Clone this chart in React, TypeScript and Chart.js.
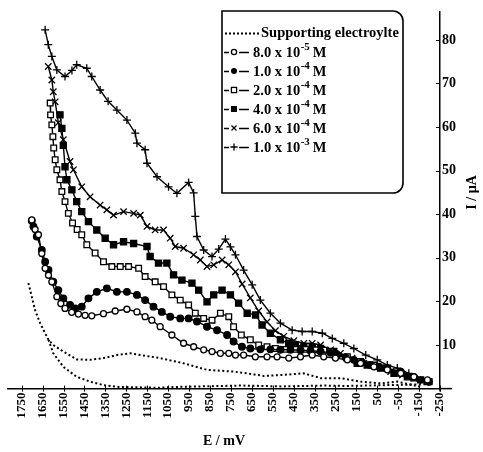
import React, { useEffect, useRef } from 'react';
import { Chart, registerables } from 'chart.js';

Chart.register(...registerables);

// ---------- tick labels ----------
const xTickValues = [1750, 1650, 1550, 1450, 1350, 1250, 1150, 1050, 950, 850, 750, 650, 550, 450, 350, 250, 150, 50, -50, -150, -250];
const yTickValues = [10, 20, 30, 40, 50, 60, 70, 80];

// ---------- series (E / mV, I / µA) ----------
const eSupport = [1718, 1702, 1686, 1662, 1638, 1622, 1599, 1551, 1487, 1423, 1359, 1295, 1231, 1183, 1088, 976, 864, 737, 672, 593, 513, 401, 321, 226, 130, 34, -46, -157];
const iSupport = [24.2, 21.1, 18.0, 15.0, 12.7, 11.2, 10.0, 8.5, 6.7, 6.6, 7.0, 7.7, 8.1, 7.7, 7.0, 5.8, 4.3, 3.9, 3.5, 2.9, 3.1, 3.5, 2.4, 2.4, 1.6, 1.2, 1.6, 0.4];

const eSupportReturn = [1622, 1599, 1551, 1487, 1423, 1359, 1295, 1199, 1100, 1000, 900, 800, 700, 600, 500, 400, 300, 200, 100, 0, -100, -200];
const iSupportReturn = [11.2, 8.1, 5.0, 2.7, 1.6, 0.8, 0.4, 0.3, 0.2, 0.4, 0.5, 0.6, 0.7, 0.6, 0.5, 0.6, 0.7, 0.6, 0.7, 0.8, 0.9, 1.0];

const e8e5 = [1702, 1686, 1670, 1654, 1638, 1622, 1606, 1582, 1563, 1543, 1511, 1479, 1447, 1415, 1359, 1303, 1247, 1199, 1160, 1128, 1088, 1032, 976, 928, 880, 840, 800, 760, 728, 689, 633, 577, 529, 473, 417, 361, 306, 250, 193, 130, 66, 2, -62, -125, -190];
const i8e5 = [38.7, 36.5, 35.3, 31.0, 27.6, 26.0, 24.5, 21.1, 19.5, 18.4, 17.5, 17.1, 16.8, 16.7, 17.2, 17.8, 18.2, 17.6, 16.5, 15.7, 14.2, 12.3, 10.4, 9.6, 8.9, 8.5, 8.1, 8.1, 7.7, 7.7, 7.3, 7.3, 7.3, 7.0, 7.3, 7.7, 7.3, 7.0, 6.6, 5.8, 5.0, 4.3, 3.5, 2.7, 2.0];

const e1e4 = [1702, 1694, 1678, 1654, 1638, 1622, 1599, 1575, 1551, 1519, 1495, 1463, 1431, 1391, 1343, 1295, 1247, 1199, 1160, 1120, 1080, 1040, 992, 952, 912, 864, 816, 768, 737, 697, 657, 609, 561, 513, 465, 417, 369, 321, 273, 241, 202, 162, 122, 82, 42, 2, -62, -125, -197];
const i1e4 = [38.5, 37.2, 34.9, 31.8, 29.1, 27.2, 24.5, 22.6, 20.7, 19.2, 18.4, 18.8, 20.7, 22.2, 23.0, 22.2, 22.2, 21.5, 20.3, 18.8, 17.6, 16.5, 16.1, 16.1, 15.4, 14.2, 13.4, 12.3, 10.8, 9.6, 9.2, 9.0, 9.0, 8.9, 8.9, 8.8, 8.7, 8.5, 8.2, 7.7, 7.2, 6.6, 6.0, 5.4, 5.0, 4.7, 3.9, 2.7, 1.6];

const e2e4 = [1614, 1612, 1606, 1601, 1597, 1590, 1582, 1567, 1558, 1543, 1527, 1507, 1485, 1463, 1439, 1399, 1359, 1319, 1279, 1239, 1191, 1160, 1112, 1072, 1032, 992, 952, 920, 880, 840, 800, 760, 737, 700, 657, 617, 577, 537, 489, 441, 393, 345, 305, 273, 193, 130, 66, 2, -62, -125, -190];
const i2e4 = [65.5, 62.8, 60.5, 57.8, 55.2, 52.5, 50.2, 47.9, 45.2, 42.9, 40.2, 38.0, 36.5, 35.3, 33.0, 31.1, 29.1, 28.0, 28.0, 28.0, 27.6, 25.7, 24.5, 23.4, 21.5, 20.3, 19.2, 17.3, 16.1, 15.7, 17.3, 16.5, 14.2, 12.3, 11.2, 10.0, 9.6, 9.2, 9.0, 9.0, 9.0, 8.9, 8.8, 8.5, 7.3, 6.2, 5.4, 4.7, 3.5, 2.4, 1.6];

const e4e4 = [1567, 1558, 1551, 1543, 1534, 1510, 1487, 1463, 1431, 1391, 1351, 1311, 1263, 1215, 1151, 1136, 1096, 1056, 1024, 984, 936, 904, 864, 832, 792, 752, 713, 672, 632, 601, 561, 513, 473, 441, 401, 361, 321, 258, 194, 146, 98, 34, -30, -94, -157, -197];
const i4e4 = [62.8, 59.7, 55.8, 50.9, 47.9, 45.6, 42.9, 40.6, 38.3, 36.4, 34.5, 33.0, 33.7, 33.3, 32.6, 30.3, 28.8, 28.8, 26.1, 24.9, 24.2, 22.6, 19.9, 21.5, 22.6, 21.5, 19.6, 17.3, 16.9, 14.6, 12.7, 11.2, 10.4, 10.0, 9.6, 9.4, 9.2, 8.5, 7.0, 5.8, 5.4, 4.7, 3.5, 2.7, 2.0, 1.6];

const e6e4 = [1623, 1606, 1599, 1590, 1575, 1551, 1519, 1503, 1463, 1423, 1375, 1343, 1311, 1263, 1215, 1183, 1151, 1112, 1072, 1040, 1016, 976, 928, 896, 864, 832, 792, 760, 728, 696, 657, 617, 577, 537, 497, 449, 401, 361, 321, 273, 226, 170, 114, 50, -14, -70, -125, -190];
const i6e4 = [73.9, 70.8, 68.1, 65.8, 61.0, 57.1, 52.1, 50.2, 46.3, 44.0, 42.1, 41.0, 39.8, 40.6, 40.2, 39.8, 37.2, 36.4, 36.4, 34.5, 32.6, 32.2, 30.7, 29.5, 28.0, 28.4, 29.5, 28.4, 26.8, 24.0, 20.8, 17.8, 15.3, 13.3, 12.0, 11.0, 10.4, 10.4, 10.0, 8.9, 8.1, 7.0, 5.8, 5.0, 3.9, 3.1, 2.4, 1.6];

const e1e3 = [1638, 1623, 1606, 1582, 1543, 1510, 1487, 1439, 1415, 1375, 1337, 1295, 1247, 1207, 1199, 1160, 1151, 1103, 1048, 1008, 952, 928, 920, 912, 880, 840, 808, 776, 752, 728, 689, 648, 609, 561, 513, 457, 409, 361, 313, 265, 210, 162, 105, 50, 2, -46, -101, -157, -196];
const i1e3 = [82.3, 78.9, 76.2, 73.1, 71.6, 73.0, 74.3, 73.5, 71.6, 68.5, 65.9, 63.9, 61.6, 58.6, 56.3, 54.8, 51.7, 48.6, 46.3, 44.8, 47.3, 44.9, 39.5, 34.9, 31.8, 30.3, 32.0, 34.3, 32.5, 30.7, 27.2, 23.8, 20.3, 17.3, 15.0, 13.4, 13.1, 13.1, 12.7, 11.5, 10.4, 9.2, 7.7, 6.6, 5.4, 4.7, 3.5, 2.0, 1.6];

// ---------- legend texts ----------
const legendFirst = 'Supporting electroylte';
const legendMain = ['8.0 x 10', '1.0 x 10', '2.0 x 10', '4.0 x 10', '6.0 x 10', '1.0 x 10'];
const legendSup = ['-5', '-4', '-4', '-4', '-4', '-3'];
const legendMarkers = ['openCircle', 'filledCircle', 'openSquare', 'filledSquare', 'x', 'plus'];

const FONT = '"Liberation Serif", "DejaVu Serif", serif';

const mk = (E: number[], I: number[]) => E.map((x, k) => ({ x, y: I[k] }));

function drawLegendMarker(ctx: CanvasRenderingContext2D, kind: string, x: number, y: number) {
  ctx.save();
  ctx.lineWidth = 1.3;
  ctx.strokeStyle = '#000';
  ctx.fillStyle = '#000';
  if (kind === 'openCircle') {
    ctx.beginPath(); ctx.arc(x, y, 2.6, 0, Math.PI * 2); ctx.fillStyle = '#fff'; ctx.fill(); ctx.stroke();
  } else if (kind === 'filledCircle') {
    ctx.beginPath(); ctx.arc(x, y, 3, 0, Math.PI * 2); ctx.fill();
  } else if (kind === 'openSquare') {
    ctx.fillStyle = '#fff'; ctx.fillRect(x - 2.6, y - 2.6, 5.2, 5.2); ctx.strokeRect(x - 2.6, y - 2.6, 5.2, 5.2);
  } else if (kind === 'filledSquare') {
    ctx.fillRect(x - 3, y - 3, 6, 6);
  } else if (kind === 'x') {
    ctx.beginPath(); ctx.moveTo(x - 2.5, y - 2.5); ctx.lineTo(x + 2.5, y + 2.5); ctx.moveTo(x - 2.5, y + 2.5); ctx.lineTo(x + 2.5, y - 2.5); ctx.stroke();
  } else if (kind === 'plus') {
    ctx.beginPath(); ctx.moveTo(x - 3.5, y); ctx.lineTo(x + 3.5, y); ctx.moveTo(x, y - 3.5); ctx.lineTo(x, y + 3.5); ctx.stroke();
  }
  ctx.restore();
}

const decorPlugin = {
  id: 'decor',
  afterDraw(chart: any) {
    const ctx: CanvasRenderingContext2D = chart.ctx;
    const xs = chart.scales.x;
    const ys = chart.scales.y;
    const y0 = chart.chartArea.bottom;
    const xr = chart.chartArea.right;
    ctx.save();
    ctx.strokeStyle = '#000';
    ctx.lineWidth = 1.5;
    ctx.beginPath(); ctx.moveTo(xr - 1, y0); ctx.lineTo(xr + 12, y0); ctx.stroke();
    ctx.beginPath(); ctx.moveTo(xr, y0); ctx.lineTo(xr, y0 + 3); ctx.stroke();
    ctx.lineWidth = 1;
    ctx.beginPath();
    xTickValues.forEach((v) => {
      const px = Math.round(xs.getPixelForValue(v)) + 0.5;
      ctx.moveTo(px, y0 - 3); ctx.lineTo(px, y0 + 3);
    });
    yTickValues.forEach((v) => {
      const py = Math.round(ys.getPixelForValue(v)) + 0.5;
      ctx.moveTo(xr - 4, py); ctx.lineTo(xr, py);
    });
    ctx.stroke();

    // y axis title (rotated, reading bottom-to-top)
    ctx.save();
    ctx.translate(472, ys.getPixelForValue(45));
    ctx.rotate(-Math.PI / 2);
    ctx.font = `bold 14px ${FONT}`;
    ctx.fillStyle = '#000';
    ctx.textAlign = 'center';
    ctx.textBaseline = 'middle';
    ctx.fillText('I / µA', 0, 0);
    ctx.restore();

    // legend box
    const L = 222, T = 11, R = 403, B = 193, r = 10;
    ctx.beginPath();
    ctx.moveTo(L, T);
    ctx.lineTo(R - r, T);
    ctx.arcTo(R, T, R, T + r, r);
    ctx.lineTo(R, B - r);
    ctx.arcTo(R, B, R - r, B, r);
    ctx.lineTo(L, B);
    ctx.closePath();
    ctx.fillStyle = '#fff';
    ctx.fill();
    ctx.lineWidth = 1.6;
    ctx.strokeStyle = '#000';
    ctx.stroke();

    ctx.fillStyle = '#000';
    ctx.textBaseline = 'middle';
    ctx.textAlign = 'left';
    const rowY = (k: number) => 33 + k * 19;
    for (let dx = 225; dx <= 257; dx += 4) ctx.fillRect(dx, rowY(0) - 0.5, 2, 2);
    ctx.font = `bold 14.5px ${FONT}`;
    ctx.fillText(legendFirst, 261, rowY(0));

    legendMain.forEach((txt, k) => {
      const y = rowY(k + 1);
      ctx.lineWidth = 1.3;
      ctx.beginPath();
      ctx.moveTo(224, y + 0.5); ctx.lineTo(229, y + 0.5);
      ctx.moveTo(239, y + 0.5); ctx.lineTo(249, y + 0.5);
      ctx.stroke();
      drawLegendMarker(ctx, legendMarkers[k], 234, y);
      ctx.font = `bold 14.5px ${FONT}`;
      ctx.fillText(txt, 253, y + 1);
      let xPos = 253 + ctx.measureText(txt).width + 0.5;
      ctx.font = `bold 11px ${FONT}`;
      ctx.fillText(legendSup[k], xPos, y - 5);
      xPos += ctx.measureText(legendSup[k]).width + 3;
      ctx.font = `bold 14.5px ${FONT}`;
      ctx.fillText('M', xPos, y + 1);
    });
    ctx.restore();
  },
};

function markerSet(style: string, filled: boolean, radius: number) {
  return {
    borderColor: '#000',
    borderWidth: 1.4,
    pointStyle: style,
    pointRadius: radius,
    pointBorderColor: '#000',
    pointBorderWidth: 1.3,
    pointBackgroundColor: filled ? '#000' : '#fff',
  };
}

export default function App() {
  const ref = useRef<HTMLCanvasElement | null>(null);

  useEffect(() => {
    if (!ref.current) return;
    const chart = new Chart(ref.current, {
      type: 'line',
      data: {
        datasets: [
          { label: 'Supporting electroylte', data: mk(eSupport, iSupport), borderColor: '#000', borderWidth: 2, borderDash: [2, 2.5], pointRadius: 0 },
          { label: 'Supporting electroylte (return)', data: mk(eSupportReturn, iSupportReturn), borderColor: '#000', borderWidth: 2, borderDash: [2, 2.5], pointRadius: 0 },
          { label: '8.0 x 10^-5 M', data: mk(e8e5, i8e5), ...markerSet('circle', false, 3) },
          { label: '1.0 x 10^-4 M', data: mk(e1e4, i1e4), ...markerSet('circle', true, 3.3) },
          { label: '2.0 x 10^-4 M', data: mk(e2e4, i2e4), ...markerSet('rect', false, 4) },
          { label: '4.0 x 10^-4 M', data: mk(e4e4, i4e4), ...markerSet('rect', true, 4.3) },
          { label: '6.0 x 10^-4 M', data: mk(e6e4, i6e4), ...markerSet('crossRot', false, 4.5) },
          { label: '1.0 x 10^-3 M', data: mk(e1e3, i1e3), ...markerSet('cross', false, 4) },
        ] as any,
      },
      options: {
        animation: false,
        responsive: false,
        devicePixelRatio: 1,
        layout: { padding: { left: 8, top: 12, right: 0, bottom: 0 } },
        plugins: { legend: { display: false }, tooltip: { enabled: false } },
        elements: { line: { tension: 0 } },
        scales: {
          x: {
            type: 'linear',
            reverse: true,
            min: -250,
            max: 1815.6,
            afterBuildTicks: (s: any) => { s.ticks = xTickValues.map((v) => ({ value: v })); },
            afterFit: (s: any) => { s.height = 63.4; },
            ticks: {
              autoSkip: false,
              minRotation: 90,
              maxRotation: 90,
              padding: 4,
              color: '#000',
              font: { family: FONT, size: 13, weight: 'bold' },
              callback: (v: any) => String(v),
            },
            grid: { display: false, drawTicks: false },
            border: { display: true, color: '#000', width: 1.5 },
            title: { display: true, text: 'E / mV', color: '#000', font: { family: FONT, size: 14, weight: 'bold' }, padding: { top: 0, bottom: 2 } },
          },
          y: {
            type: 'linear',
            position: 'right',
            min: 0,
            max: 86.4,
            afterBuildTicks: (s: any) => { s.ticks = yTickValues.map((v) => ({ value: v })); },
            afterFit: (s: any) => { s.width = 43; },
            ticks: {
              padding: 2,
              color: '#000',
              font: { family: FONT, size: 14, weight: 'bold' },
              callback: (v: any) => String(v),
            },
            grid: { display: false, drawTicks: false },
            border: { display: true, color: '#000', width: 1.5 },
          },
        },
      } as any,
      plugins: [decorPlugin],
    });
    return () => chart.destroy();
  }, []);

  return (
    <div style={{ position: 'fixed', left: 0, top: 0, width: 483, height: 452, background: '#fff' }}>
      <canvas ref={ref} width={483} height={452} style={{ display: 'block' }} />
    </div>
  );
}
